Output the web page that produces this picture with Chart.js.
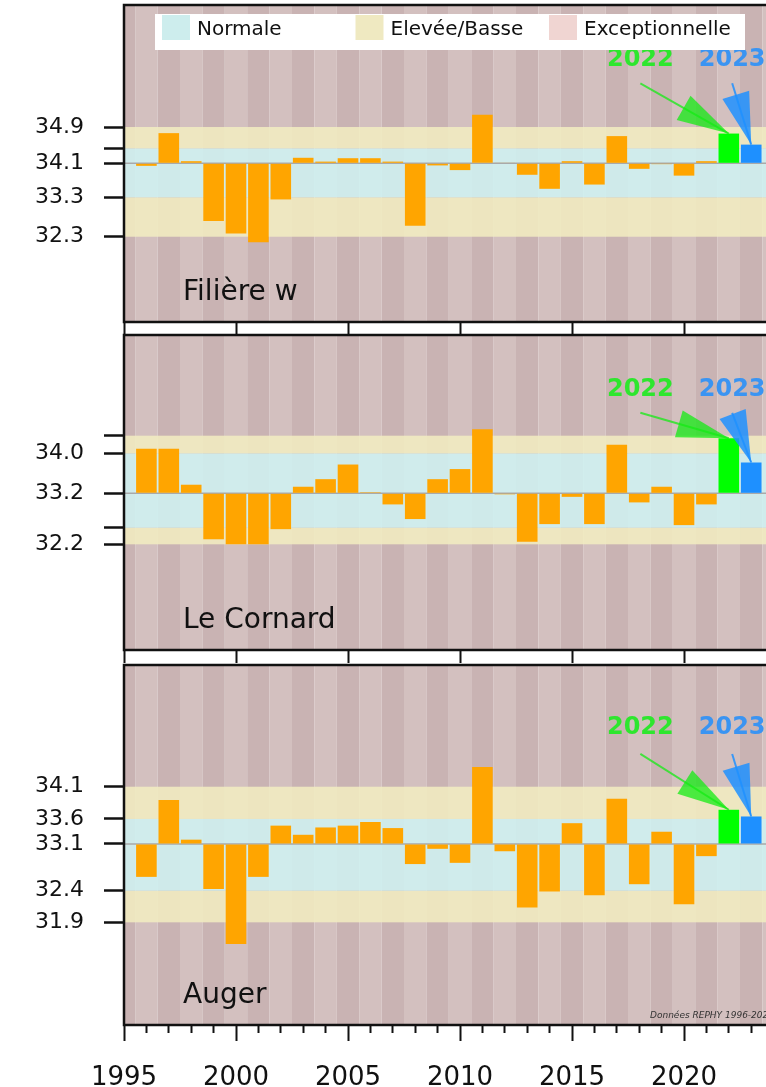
<!DOCTYPE html>
<html>
<head>
<meta charset="utf-8">
<script src="https://cdn.jsdelivr.net/npm/chart.js@4.4.1/dist/chart.umd.min.js"></script>
<style>
  html, body { margin: 0; padding: 0; background: #fff; overflow: hidden; }
  #wrap { position: relative; width: 766px; height: 1087px; }
  canvas { position: absolute; left: 0; }
</style>
</head>
<body>
<div id="wrap">
  <canvas id="p1" width="766" height="335" style="top:0px"></canvas>
  <canvas id="p2" width="766" height="330" style="top:333px"></canvas>
  <canvas id="p3" width="766" height="424" style="top:663px"></canvas>
</div>
<script>
// salinity, yearly values per site (bars drawn from the site median)
const years = [1996, 1997, 1998, 1999, 2000, 2001, 2002, 2003, 2004, 2005, 2006, 2007, 2008, 2009,
               2010, 2011, 2012, 2013, 2014, 2015, 2016, 2017, 2018, 2019, 2020, 2021, 2022, 2023];
const siteNames = ['Filière w', 'Le Cornard', 'Auger'];

const filiereW  = [34.00, 34.77, 34.11, 32.70, 32.41, 32.20, 33.21, 34.19, 34.10, 34.18, 34.18, 34.10, 32.59, 34.01,
                   33.90, 35.20, 34.07, 33.79, 33.46, 34.11, 33.56, 34.70, 33.93, 34.04, 33.77, 34.11, 34.76, 34.50];
const leCornard = [34.08, 34.08, 33.37, 32.29, 32.19, 32.19, 32.49, 33.33, 33.48, 33.77, 33.22, 32.98, 32.69, 33.48,
                   33.68, 34.47, 33.18, 32.24, 32.59, 33.13, 32.59, 34.16, 33.02, 33.33, 32.57, 32.98, 34.29, 33.81];
const auger     = [32.61, 33.87, 33.22, 32.41, 31.51, 32.61, 33.45, 33.30, 33.42, 33.45, 33.51, 33.41, 32.82, 33.07,
                   32.84, 34.41, 33.03, 32.11, 32.37, 33.49, 32.31, 33.89, 32.49, 33.35, 32.16, 32.95, 33.71, 33.60];
const siteValues = [filiereW, leCornard, auger];

const medians = [34.06, 33.20, 33.149];
// band limits: exceptional-low | low | normal | high | exceptional-high
const bandLimits = [
  [32.333, 33.26, 34.413, 34.914],
  [32.19, 32.519, 33.992, 34.341],
  [31.865, 32.383, 33.559, 34.088]
];
// y tick labels, same order as [low limit, normal low, median, normal high, high limit]
const yTickLabels = [
  ['32.3', '33.3', '34.1', '', '34.9'],
  ['32.2', '', '33.2', '34.0', ''],
  ['31.9', '32.4', '33.1', '33.6', '34.1']
];
const majorYears = [1995, 2000, 2005, 2010, 2015, 2020];
const tickYears = [1995, ...years];
const highlightYears = [2022, 2023];

const legendLabels = ['Normale', 'Elevée/Basse', 'Exceptionnelle'];
const credit = 'Données REPHY 1996-2023';

const FONT = "'DejaVu Sans', sans-serif";
const C = {
  bar: '#ffa500', hi: ['#00ff00', '#1e90ff'], hiText: ['#2ee62e', '#3a94f2'],
  hiArrow: ['rgba(20,235,20,0.75)', 'rgba(30,144,255,0.85)'],
  stripeDark: '#c9b3b3', stripeLight: '#d3c0bf',
  yellow: 'rgba(242,237,193,0.86)', cyan: 'rgba(207,243,243,0.86)',
  legend: ['#cdeded', '#efe9c1', '#f0d5d2']
};

function arrow(ctx, sx, sy, tx, ty, color) {
  const ang = Math.atan2(ty - sy, tx - sx);
  const len = 52, hw = 14;
  const bx = tx - len * Math.cos(ang), by = ty - len * Math.sin(ang);
  ctx.save();
  ctx.strokeStyle = color; ctx.fillStyle = color; ctx.lineWidth = 2;
  ctx.beginPath(); ctx.moveTo(sx, sy); ctx.lineTo(tx, ty); ctx.stroke();
  ctx.beginPath();
  ctx.moveTo(tx, ty);
  ctx.lineTo(bx + hw * Math.sin(ang), by - hw * Math.cos(ang));
  ctx.lineTo(bx - hw * Math.sin(ang), by + hw * Math.cos(ang));
  ctx.closePath(); ctx.fill();
  ctx.restore();
}

const panelPlugin = {
  id: 'panel',
  beforeDatasetsDraw(chart, args, o) {
    const { ctx, chartArea: a, scales: { x, y } } = chart;
    const b = bandLimits[o.i];
    ctx.save();
    ctx.beginPath(); ctx.rect(a.left, a.top, a.width, a.height); ctx.clip();
    for (let yr = 1995; yr <= 2024; yr++) {
      const x0 = x.getPixelForValue(yr - 0.5), x1 = x.getPixelForValue(yr + 0.5);
      ctx.fillStyle = yr % 2 ? C.stripeDark : C.stripeLight;
      ctx.fillRect(x0, a.top, x1 - x0, a.height);
    }
    const band = (lo, hi, col) => {
      const p0 = y.getPixelForValue(hi), p1 = y.getPixelForValue(lo);
      ctx.fillStyle = col; ctx.fillRect(a.left, p0, a.width, p1 - p0);
    };
    band(b[0], b[1], C.yellow); band(b[1], b[2], C.cyan); band(b[2], b[3], C.yellow);
    const m = y.getPixelForValue(medians[o.i]);
    ctx.strokeStyle = '#a9a9a9'; ctx.lineWidth = 1.5;
    ctx.beginPath(); ctx.moveTo(a.left, m); ctx.lineTo(a.right, m); ctx.stroke();
    ctx.restore();
  },
  afterDatasetsDraw(chart, args, o) {
    const { ctx, chartArea: a, scales: { x, y } } = chart;
    const vals = siteValues[o.i];
    ctx.save();
    // frame
    ctx.strokeStyle = '#111'; ctx.lineWidth = 2.5;
    ctx.beginPath();
    ctx.moveTo(a.right + 5, a.top); ctx.lineTo(a.left, a.top);
    ctx.lineTo(a.left, a.bottom); ctx.lineTo(a.right + 5, a.bottom);
    ctx.stroke();

    // 2022 / 2023 labels and arrows
    const labelX = [2018.05, 2022.15];
    highlightYears.forEach((yr, k) => {
      const v = vals[years.indexOf(yr)];
      const tx = x.getPixelForValue(yr), ty = y.getPixelForValue(v);
      const lx = x.getPixelForValue(labelX[k]);
      ctx.font = `bold 24px ${FONT}`;
      ctx.fillStyle = C.hiText[k];
      ctx.textAlign = 'center'; ctx.textBaseline = 'middle';
      ctx.fillText(String(yr), lx, a.top + 0.173 * a.height);
      arrow(ctx, lx, a.top + 0.247 * a.height, tx, ty, C.hiArrow[k]);
    });

    // site name
    ctx.font = `28px ${FONT}`; ctx.fillStyle = '#111';
    ctx.textAlign = 'left'; ctx.textBaseline = 'alphabetic';
    ctx.fillText(siteNames[o.i], a.left + 59, a.bottom - 22);

    if (o.legend) {
      ctx.fillStyle = '#fff';
      ctx.fillRect(a.left + 31, a.top + 9, 590, 36);
      legendLabels.forEach((t, k) => {
        const lx = a.left + 38 + k * 193.5;
        ctx.fillStyle = C.legend[k];
        ctx.fillRect(lx, a.top + 10, 28, 25);
        ctx.fillStyle = '#111';
        ctx.font = `20px ${FONT}`;
        ctx.fillText(t, lx + 35, a.top + 30);
      });
    }
    if (o.credit) {
      ctx.font = `italic 9px ${FONT}`; ctx.fillStyle = '#333';
      ctx.fillText(credit, a.left + 526, a.bottom - 7);
    }
    ctx.restore();
  }
};

const panels = [
  { id: 'p1', padTop: 5, axisH: 13, yMin: 30.326, yMax: 37.785, labels: false, legend: true },
  { id: 'p2', padTop: 2, axisH: 13, yMin: 30.097, yMax: 36.335, labels: false, legend: false },
  { id: 'p3', padTop: 2, axisH: 62, yMin: 30.182, yMax: 36.083, labels: true, legend: false }
];

panels.forEach((p, i) => {
  const ctx = document.getElementById(p.id).getContext('2d');
  const xTicks = p.labels ? tickYears : majorYears;
  new Chart(ctx, {
    type: 'bar',
    data: {
      datasets: [{
        data: years.map((yr, j) => ({ x: yr, y: siteValues[i][j] })),
        base: medians[i],
        backgroundColor: years.map(yr => highlightYears.includes(yr) ? C.hi[highlightYears.indexOf(yr)] : C.bar),
        borderWidth: 0,
        barPercentage: 0.92,
        categoryPercentage: 1
      }]
    },
    options: {
      responsive: false, animation: false, devicePixelRatio: 1,
      layout: { padding: { top: p.padTop, left: 0, right: 0, bottom: 0 } },
      plugins: {
        legend: { display: false }, tooltip: { enabled: false },
        panel: { i, legend: p.legend, credit: p.labels }
      },
      scales: {
        x: {
          type: 'linear', min: 1995, max: 2023.66, offset: false,
          afterBuildTicks: s => { s.ticks = xTicks.map(v => ({ value: v })); },
          afterFit: s => { s.height = p.axisH; s.paddingLeft = 0; s.paddingRight = 0; },
          border: { display: false },
          grid: {
            offset: false, drawOnChartArea: false, tickLength: p.labels ? 16 : 13, tickWidth: 2, tickColor: '#111',
            tickBorderDash: c => (c.tick && c.tick.value % 5) ? [8, 40] : []
          },
          ticks: {
            display: p.labels, autoSkip: false, maxRotation: 0, minRotation: 0,
            padding: 22, color: '#111', font: { family: FONT, size: 26 },
            callback: v => v % 5 === 0 ? String(v) : ''
          }
        },
        y: {
          min: p.yMin, max: p.yMax,
          afterBuildTicks: s => {
            const b = bandLimits[i];
            s.ticks = [b[0], b[1], medians[i], b[2], b[3]].map(v => ({ value: v }));
          },
          afterFit: s => { s.width = 124; s.paddingTop = 0; s.paddingBottom = 0; },
          border: { display: false },
          grid: { drawOnChartArea: false, tickLength: 20, tickWidth: 2.5, tickColor: '#111' },
          ticks: {
            autoSkip: false, padding: 20, color: '#111', font: { family: FONT, size: 22 },
            callback: (v, idx) => yTickLabels[i][idx]
          }
        }
      }
    },
    plugins: [panelPlugin]
  });
});
</script>
</body>
</html>
